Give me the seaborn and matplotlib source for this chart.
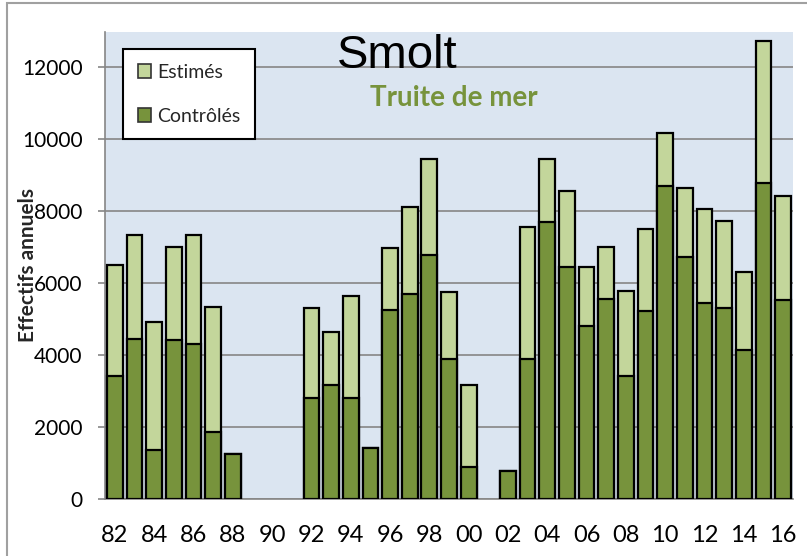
import numpy as np
import pandas as pd
import matplotlib
matplotlib.use("Agg")
import matplotlib.pyplot as plt
from matplotlib.patches import Patch, Rectangle
import seaborn as sns

years = ["82", "83", "84", "85", "86", "87", "88", "89", "90", "91",
         "92", "93", "94", "95", "96", "97", "98", "99", "00", "01",
         "02", "03", "04", "05", "06", "07", "08", "09", "10", "11",
         "12", "13", "14", "15", "16"]
totals = [6510, 7340, 4930, 7000, 7330, 5340, 1250, np.nan, np.nan, np.nan,
          5310, 4640, 5640, 1420, 6970, 8110, 9440, 5740, 3170, np.nan,
          790, 7560, 9440, 8560, 6440, 7010, 5780, 7510, 10180, 8650,
          8060, 7740, 6320, 12720, 8430]
controles = [3410, 4450, 1370, 4410, 4310, 1860, 1250, np.nan, np.nan, np.nan,
             2800, 3180, 2800, 1420, 5250, 5690, 6780, 3900, 900, np.nan,
             790, 3900, 7700, 6440, 4820, 5560, 3430, 5220, 8690, 6720,
             5460, 5310, 4130, 8780, 5530]
yticks = [0, 2000, 4000, 6000, 8000, 10000, 12000]
xlabels_shown = years[::2]

light = "#c3d69b"
dark = "#77933c"
grid_c = "#868686"

sns.set_theme(style="white")
plt.rcParams["font.family"] = ["Lato", "DejaVu Sans"]

df = pd.DataFrame({"annee": years, "total": totals, "controles": controles})

fig = plt.figure(figsize=(8.07, 5.56), dpi=100)
ax = fig.add_axes([105/807, 1-499/556, (793-105)/807, (499-32)/556])
ax.set_facecolor("#dbe5f1")

sns.barplot(data=df, x="annee", y="total", order=years, color=light,
            saturation=1, edgecolor="black", linewidth=1.6, width=0.8,
            errorbar=None, ax=ax, zorder=3)
sns.barplot(data=df, x="annee", y="controles", order=years, color=dark,
            saturation=1, edgecolor="black", linewidth=1.6, width=0.8,
            errorbar=None, ax=ax, zorder=4)

ax.set_xlim(-0.5, len(years) - 0.5)
ax.set_ylim(0, 12980)
ax.set_yticks(yticks)
ax.set_yticklabels([str(v) for v in yticks], fontsize=15)
ax.yaxis.grid(True, color=grid_c, linewidth=1.2, zorder=1)
ax.set_axisbelow(True)

ax.set_xticks(range(0, len(years), 2))
ax.set_xticklabels(xlabels_shown, fontsize=17)
ax.set_xticks(np.arange(-0.5, len(years), 1), minor=True)
ax.tick_params(axis="x", which="major", length=0, pad=19, labelcolor="black")
ax.tick_params(axis="x", which="minor", length=7, width=1.2, color=grid_c)
ax.tick_params(axis="y", which="major", length=5, width=1.2, color=grid_c,
               pad=11, left=True, labelcolor="black")

for s in ["top", "right"]:
    ax.spines[s].set_visible(False)
for s in ["left", "bottom"]:
    ax.spines[s].set_color(grid_c)
    ax.spines[s].set_linewidth(1.2)

ax.set_xlabel("")
ax.set_ylabel("Effectifs annuels", fontsize=15, fontweight="bold",
              family=["Lato", "DejaVu Sans"])
ax.yaxis.set_label_coords((38 - 105) / 688, (499 - 265) / 467)

handles = [Patch(facecolor=light, edgecolor="#333333", linewidth=1.2, label="Estimés"),
           Patch(facecolor=dark, edgecolor="#333333", linewidth=1.2, label="Contrôlés")]
leg = ax.legend(handles=handles, loc="upper left", bbox_to_anchor=(18/688, 1-17/467),
                borderaxespad=0, fontsize=14, frameon=True, fancybox=False,
                edgecolor="black", framealpha=1, labelspacing=1.4,
                handlelength=0.7, handleheight=0.7, handletextpad=0.3,
                borderpad=0.75)
leg.get_frame().set_linewidth(1.5)
leg.set_zorder(10)

fig.text(397/807, 1-68/556, "Smolt", fontsize=34, family="Liberation Sans",
         ha="center", va="baseline", color="black", zorder=20)
fig.text(454/807, 1-106/556, "Truite de mer", fontsize=20, fontweight="bold",
         ha="center", va="baseline", color=dark, zorder=20)

fig.patches.append(Rectangle((7/807, -0.1), 1.2, 1.1 - 3/556, transform=fig.transFigure,
                             fill=False, edgecolor="#a0a0a0", linewidth=1.5))

fig.savefig("out.png", dpi=100)
